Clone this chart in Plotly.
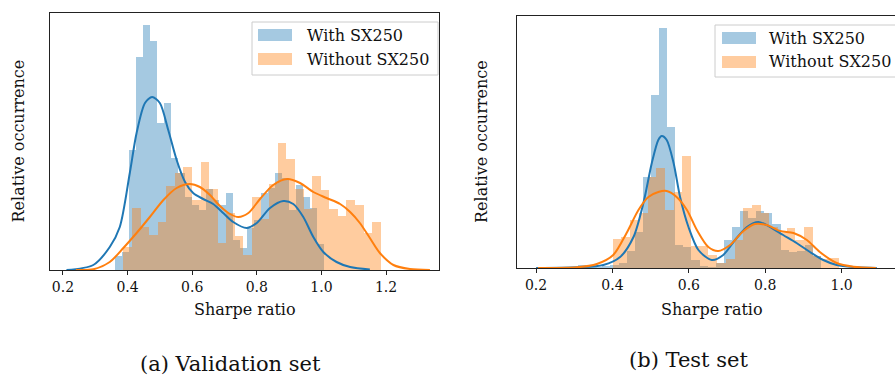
import plotly.graph_objects as go

W, H = 895, 376

# ---------------- data ----------------
# (a) Validation set
val_with_start, val_with_width = 0.361, 0.02157
val_with_hist = [14, 18, 120, 213, 245, 229, 147, 167, 112, 97, 73, 65, 60, 81, 70,
                 65, 77, 30, 22, 42, 50, 77, 82, 97, 92, 60, 85, 73, 62, 26]
val_without_start, val_without_width = 0.387, 0.02656
val_without_hist = [22.7, 62, 42.7, 35, 48.3, 84, 97, 103, 70, 108, 81, 27, 57, 34, 15,
                    73, 51, 86, 127, 111, 81, 61, 94, 80, 61, 54, 70, 65, 37, 48]
val_with_kde_x = [0.211, 0.294, 0.345, 0.376, 0.407, 0.428, 0.454, 0.476, 0.500, 0.526,
                  0.552, 0.578, 0.603, 0.634, 0.665, 0.696, 0.727, 0.769, 0.800, 0.841,
                  0.882, 0.913, 0.944, 0.975, 1.006, 1.047, 1.089, 1.150]
val_with_kde_y = [0, 5, 23, 43, 97, 137, 167, 173, 167, 140,
                  110, 88, 77, 71, 66, 57, 48, 42, 47, 62,
                  69, 66, 53, 33, 18, 8, 3, 0.5]
val_without_kde_x = [0.240, 0.294, 0.345, 0.387, 0.428, 0.469, 0.511, 0.552, 0.593, 0.624,
                     0.655, 0.686, 0.717, 0.743, 0.774, 0.810, 0.851, 0.894, 0.934, 0.975,
                     1.016, 1.058, 1.089, 1.119, 1.150, 1.181, 1.223, 1.274, 1.336]
val_without_kde_y = [0, 0.7, 8, 22, 37, 53, 70, 82, 86, 83,
                     75, 64, 56, 53, 57, 71, 85, 91, 87, 78,
                     72, 66, 58, 47, 32, 17, 5, 1, 0]

# (b) Test set
test_with_start, test_with_width = 0.310, 0.0212
test_with_hist = [3, 1, 1, 2, 3, 5, 17, 36, 91, 173, 240, 141, 23, 21, 8,
                  2, 1, 5, 28, 41, 57, 50, 57, 55, 44, 18, 16, 17, 23, 12]
test_without_start, test_without_width = 0.4008, 0.02277
test_without_hist = [29, 31, 48, 55, 91, 100, 58, 76, 112, 22, 22, 13, 5, 9, 28,
                     60, 63, 55, 41, 35, 40, 28, 41, 12, 9, 10]
test_with_kde_x = [0.200, 0.307, 0.376, 0.420, 0.455, 0.481, 0.503, 0.520, 0.529, 0.542,
                   0.560, 0.577, 0.599, 0.625, 0.660, 0.690, 0.721, 0.752, 0.782, 0.813,
                   0.847, 0.882, 0.917, 0.952, 0.987, 1.040, 1.092]
test_with_kde_y = [0, 0.7, 3, 11, 31, 65, 105, 128, 132, 128,
                   105, 71, 41, 18, 8, 13, 28, 41, 46, 41,
                   33, 25, 16, 8, 3, 0.7, 0]
test_without_kde_x = [0.205, 0.307, 0.359, 0.402, 0.437, 0.468, 0.494, 0.520, 0.542, 0.568,
                      0.595, 0.621, 0.651, 0.677, 0.708, 0.743, 0.773, 0.804, 0.839, 0.874,
                      0.909, 0.943, 0.987, 1.031, 1.090]
test_without_kde_y = [0, 0.7, 4, 13, 35, 58, 71, 76, 77, 71,
                      58, 38, 21, 17, 23, 37, 44, 43, 37, 35,
                      28, 16, 5, 1.3, 0]

x_ticks_a = [0.2, 0.4, 0.6, 0.8, 1.0, 1.2]
x_ticks_b = [0.2, 0.4, 0.6, 0.8, 1.0, 1.2]
series_names = ["With SX250", "Without SX250"]
x_title = "Sharpe ratio"
y_title = "Relative occurrence"
captions = ["(a) Validation set", "(b) Test set"]

# ---------------- styles ----------------
BLUE = "#1f77b4"
ORANGE = "#ff7f0e"
BLUE_FILL = "rgba(31,119,180,0.4)"
ORANGE_FILL = "rgba(255,127,14,0.4)"
FONT = "DejaVu Serif"


def X(px):
    return px / W


def Y(py):
    return 1 - py / H


def centers(start, width, n):
    return [start + width * (i + 0.5) for i in range(n)]


fig = go.Figure()

panels = [
    ("x", "y", val_with_start, val_with_width, val_with_hist,
     val_without_start, val_without_width, val_without_hist,
     val_with_kde_x, val_with_kde_y, val_without_kde_x, val_without_kde_y),
    ("x2", "y2", test_with_start, test_with_width, test_with_hist,
     test_without_start, test_without_width, test_without_hist,
     test_with_kde_x, test_with_kde_y, test_without_kde_x, test_without_kde_y),
]

for (xa, ya, ws, ww, wh, os_, ow, oh, wkx, wky, okx, oky) in panels:
    fig.add_trace(go.Bar(x=centers(ws, ww, len(wh)), y=wh, width=ww,
                         marker=dict(color=BLUE_FILL, line=dict(width=0)),
                         xaxis=xa, yaxis=ya, showlegend=False, name=series_names[0]))
    fig.add_trace(go.Bar(x=centers(os_, ow, len(oh)), y=oh, width=ow,
                         marker=dict(color=ORANGE_FILL, line=dict(width=0)),
                         xaxis=xa, yaxis=ya, showlegend=False, name=series_names[1]))
    fig.add_trace(go.Scatter(x=wkx, y=wky, mode="lines",
                             line=dict(color=BLUE, width=2, shape="spline", smoothing=0.8),
                             xaxis=xa, yaxis=ya, showlegend=False))
    fig.add_trace(go.Scatter(x=okx, y=oky, mode="lines",
                             line=dict(color=ORANGE, width=2, shape="spline", smoothing=0.8),
                             xaxis=xa, yaxis=ya, showlegend=False))

axis_common = dict(showgrid=False, zeroline=False, linecolor="#222", linewidth=1,
                   showline=True)
xtick_common = dict(ticks="outside", ticklen=4, tickwidth=1, tickcolor="#222",
                    tickfont=dict(family=FONT, size=14, color="#111"),
                    tickformat=".1f")

fig.update_layout(
    width=W, height=H,
    margin=dict(l=0, r=0, t=0, b=0),
    paper_bgcolor="white", plot_bgcolor="white",
    barmode="overlay", bargap=0,
    xaxis=dict(domain=[X(50), X(439)], range=[0.16, 1.364], tickvals=x_ticks_a,
               mirror=True, anchor="y", **axis_common, **xtick_common),
    yaxis=dict(domain=[Y(270), Y(13)], range=[0, 257], showticklabels=False, ticks="",
               mirror=True, anchor="x", **axis_common),
    xaxis2=dict(domain=[X(517), 1.0], range=[0.150, 0.2 + (895 - 536) / 382],
                tickvals=x_ticks_b, mirror=True, anchor="y2", **axis_common, **xtick_common),
    yaxis2=dict(domain=[Y(268), Y(16)], range=[0, 252], showticklabels=False, ticks="",
                mirror=False, anchor="x2", **axis_common),
    font=dict(family=FONT, color="#111"),
)

annotations = []
shapes = []


def text(px, py, s, size, xanchor="center", angle=0):
    annotations.append(dict(x=X(px), y=Y(py), xref="paper", yref="paper", text=s,
                            showarrow=False, xanchor=xanchor, yanchor="middle",
                            textangle=angle,
                            font=dict(family=FONT, size=size, color="#111")))


def rect(x0, y0, x1, y1, fill, line=None):
    shapes.append(dict(type="rect", xref="paper", yref="paper",
                       x0=X(x0), x1=X(x1), y0=Y(y1), y1=Y(y0),
                       fillcolor=fill,
                       line=dict(color=line or "rgba(0,0,0,0)", width=1 if line else 0),
                       layer="above"))


# axis titles
text(244.5, 309, x_title, 16)
text(711.5, 309, x_title, 16)
text(18, 141.5, y_title, 16, angle=-90)
text(481, 142, y_title, 16, angle=-90)
# captions
text(230.5, 364, captions[0], 21)
text(688.5, 360, captions[1], 21)

# legends
for (bx0, by0, bx1, by1, p0, pt, tx) in [(252, 22, 438, 75, 258, 29, 305),
                                         (715, 25, 920, 77, 722, 32, 767)]:
    rect(bx0, by0, bx1, by1, "rgba(255,255,255,0.8)", "#cccccc")
    rect(p0, pt, p0 + 34, pt + 12, BLUE_FILL)
    rect(p0, pt + 24, p0 + 34, pt + 36, ORANGE_FILL)
    text(tx, pt + 6, series_names[0], 16, xanchor="left")
    text(tx, pt + 30, series_names[1], 16, xanchor="left")

fig.update_layout(annotations=annotations, shapes=shapes)

fig.write_html("out.html")
